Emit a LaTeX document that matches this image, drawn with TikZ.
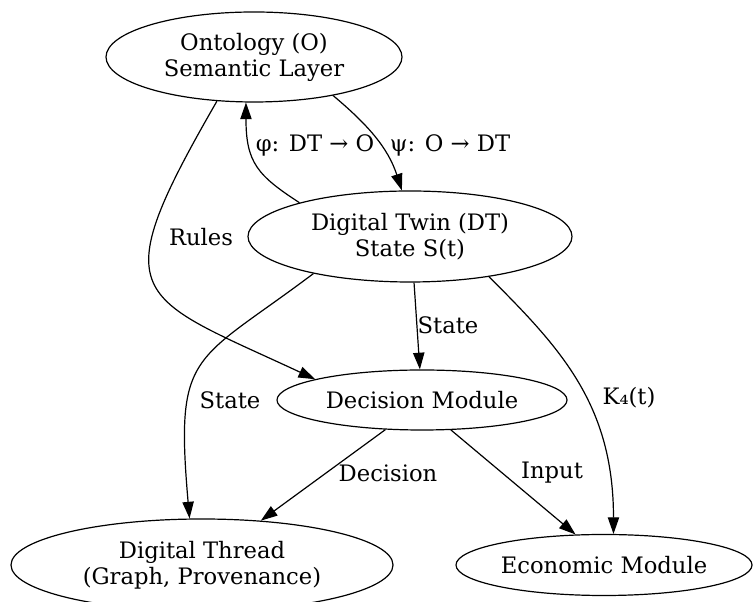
\documentclass[tikz,border=0pt]{standalone}
\usepackage{fontspec}
\setmainfont{DejaVu Serif}
\usetikzlibrary{arrows.meta,shapes.geometric}

\begin{document}
\begin{tikzpicture}[x=0.75pt,y=0.75pt,
    every node/.style={font=\fontsize{17}{19.5}\selectfont},
    blob/.style={ellipse,draw,line width=0.9pt,inner sep=0pt,align=center},
    link/.style={line width=0.9pt,-{Triangle[length=12.5pt,width=8.5pt]}},
    tag/.style={inner sep=0pt}]

    \useasboundingbox (0,0) rectangle (753,602);
    \clip (0,0) rectangle (753,602);

    \node[blob,minimum width=222pt,minimum height=67.5pt] (onto) at (254,545) {Ontology (O)\\Semantic Layer};
    \node[blob,minimum width=243pt,minimum height=68.25pt] (twin) at (410,365.5) {Digital Twin (DT)\\State S(t)};
    \node[blob,minimum width=217.5pt,minimum height=45pt] (decide) at (422,202) {Decision Module};
    \node[blob,minimum width=286.5pt,minimum height=69pt] (thread) at (202,37) {Digital Thread\\(Graph, Provenance)};
    \node[blob,minimum width=222pt,minimum height=45.75pt] (econ) at (604,37) {Economic Module};

    \draw[link] (onto.230) .. controls +(240:230) and +(155:200) .. (decide.169);
    \draw[link] (twin.163) .. controls +(147:50) and +(270:60) .. (onto.260);
    \draw[link] (onto.334) .. controls +(320:45) and +(108:45) .. (twin.100);
    \draw[link] (twin.275) -- (decide.94);
    \draw[link] (twin.201) .. controls +(217:150) and +(95:170) .. (thread.105);
    \draw[link] (twin.333) .. controls +(315:100) and +(90:130) .. (econ.73);
    \draw[link] (decide.219) -- (thread.37);
    \draw[link] (decide.314) -- (econ.133);

    \node[tag] (lrules) at (201,365) {Rules};
    \node[tag] (lphi) at (315,457) {φ: DT → O};
    \node[tag] (lpsi) at (450,457) {ψ: O → DT};
    \node[tag] (lstate) at (448,277) {State};
    \node[tag] (lstatethread) at (230,202) {State};
    \node[tag] (lk) at (629,204) {K₄(t)};
    \node[tag] (ldecision) at (388,129) {Decision};
    \node[tag] (linput) at (552,129) {Input};

\end{tikzpicture}
\end{document}
